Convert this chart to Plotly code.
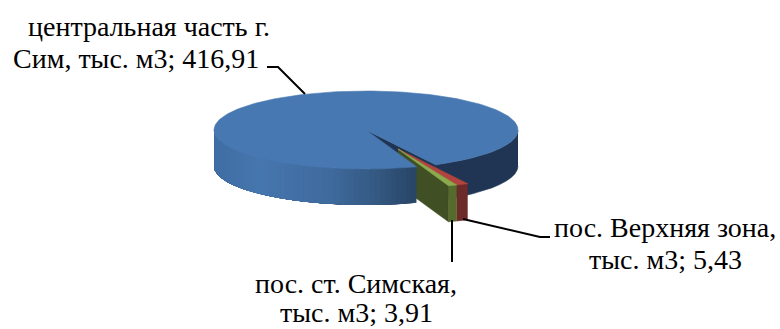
import numpy as np
import plotly.graph_objects as go

# Volumes by district, thousand m3
areas = ["центральная часть г. Сим", "пос. Верхняя зона", "пос. ст. Симская"]
volumes = [416.91, 5.43, 3.91]
value_labels = ["416,91", "5,43", "3,91"]

TOP = ["#4878b2", "#b2433f", "#8caa4c"]
RIM = ["#1f3553", "#6c2a28", "#566a2e"]
CUT_GREEN = "#404f24"
WALL_STOPS = [(213, "#3f6da3"), (260, "#4676ae"), (330, "#3f6a9d"), (380, "#33577f"), (417, "#284465")]

# Pie geometry in page pixels
CX, CY, A, B, DEPTH = 366, 130, 152, 39, 36
EXPLODE = (32, 19)
FIRST_ANGLE = 160.6  # degrees clockwise from the top of the ellipse

FONT = dict(family="Liberation Serif, Times New Roman, serif", size=28, color="#000000")


def rim(theta, off=(0, 0), drop=0):
    t = np.radians(theta)
    return CX + off[0] + A * np.sin(t), CY + off[1] - B * np.cos(t) + drop


def polygon(xs, ys, color, edge=0.6):
    fig.add_trace(go.Scatter(
        x=list(xs), y=list(ys), mode="lines", fill="toself", fillcolor=color,
        line=dict(color=color, width=edge), hoverinfo="skip", showlegend=False,
    ))


def hex_mix(stops, x):
    xp = [s[0] for s in stops]
    channels = [[int(s[1][i:i + 2], 16) for s in stops] for i in (1, 3, 5)]
    return "#%02x%02x%02x" % tuple(int(round(np.interp(x, xp, c))) for c in channels)


def wall(theta0, theta1, off, color, edge=0.6, steps=12):
    th = np.linspace(theta0, theta1, steps)
    x0, y0 = rim(th, off)
    x1, y1 = rim(th[::-1], off, DEPTH)
    polygon(np.r_[x0, x1], np.r_[y0, y1], color, edge)


def top(theta0, theta1, off, color, steps=24):
    th = np.linspace(theta0, theta1, steps)
    x, y = rim(th, off)
    polygon(np.r_[CX + off[0], x, CX + off[0]], np.r_[CY + off[1], y, CY + off[1]], color)


fig = go.Figure()

sweeps = 360 * np.array(volumes) / sum(volumes)
main_start = FIRST_ANGLE
main_end = main_start + sweeps[0]
red_start, red_end = main_end - 360, main_end - 360 + sweeps[1]
green_start, green_end = red_end, red_end + sweeps[2]

# Far side of the large slice: the cut face and the dark wall on the right
rx, ry = rim(main_end)
polygon([CX, rx, rx, CX], [CY, ry, ry + DEPTH, CY + DEPTH], RIM[0])
wall(90, red_start, (0, 0), RIM[0])

# Two small pulled-out slices
gx, gy = rim(green_end, EXPLODE)
polygon([CX + EXPLODE[0], gx, gx, CX + EXPLODE[0]],
        [CY + EXPLODE[1], gy, gy + DEPTH, CY + EXPLODE[1] + DEPTH], CUT_GREEN)
wall(red_start, red_end, EXPLODE, RIM[1])
wall(green_start, green_end, EXPLODE, RIM[2])
top(red_start, red_end, EXPLODE, TOP[1], 6)
top(green_start, green_end, EXPLODE, TOP[2], 6)

# Near wall of the large slice: overlapping bands, each repainting the rest of
# the wall towards the left edge, so no seams show between shades
edges = np.linspace(main_start, 270, 56)
for t0, t1 in zip(edges[:-1], edges[1:]):
    xm, _ = rim((t0 + t1) / 2)
    wall(t0, 270, (0, 0), hex_mix(WALL_STOPS, xm), 0, 40)

top(main_start, main_end, (0, 0), TOP[0], 240)

# Leader lines
for lx, ly in [([267, 278, 305], [67, 67, 94]),
               ([463, 540, 550], [219, 237, 237]),
               ([452, 452], [220, 262])]:
    fig.add_trace(go.Scatter(x=lx, y=ly, mode="lines", line=dict(color="#000000", width=2),
                             hoverinfo="skip", showlegend=False))

labels = [
    ("центральная часть г.", 149, 26),
    ("Сим, тыс. м3; " + value_labels[0], 136, 58),
    ("пос. Верхняя зона,", 665, 227),
    ("тыс. м3; " + value_labels[1], 665, 259),
    ("пос. ст. Симская,", 356, 283),
    ("тыс. м3; " + value_labels[2], 356, 312),
]
for text, x, y in labels:
    fig.add_annotation(x=x, y=y, xref="x", yref="y", text=text, showarrow=False,
                       font=FONT, align="center", xanchor="center", yanchor="middle")

fig.update_layout(
    width=780, height=329, margin=dict(l=0, r=0, t=0, b=0),
    paper_bgcolor="#ffffff", plot_bgcolor="#ffffff", showlegend=False,
    xaxis=dict(range=[0, 780], visible=False, fixedrange=True),
    yaxis=dict(range=[329, 0], visible=False, fixedrange=True),
)
fig.write_html("out.html", config=dict(displayModeBar=False))
